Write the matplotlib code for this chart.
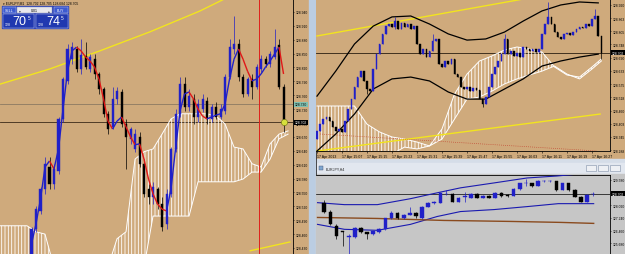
import numpy as np
import matplotlib.pyplot as plt
from matplotlib.collections import LineCollection
from matplotlib.patches import Rectangle

plt.rcParams['font.family'] = ['Liberation Sans', 'DejaVu Sans']
plt.rcParams['hatch.linewidth'] = 0.6

TAN = '#CFAA7C'
GREY_BG = '#C6C6C6'
BULL = '#2020C8'
BEAR = '#000000'
YELLOW = '#F2E41E'

# ---- left chart: EURJPY M1, candles start at bar 7 ----
lf_first = 7
lf_open = [128.417, 128.471, 128.510, 128.558, 128.605, 128.568, 128.596, 128.709, 128.791, 128.838,
           128.860, 128.817, 128.845, 128.817, 128.838, 128.806, 128.774, 128.720, 128.692, 128.752,
           128.767, 128.698, 128.666, 128.644, 128.670, 128.612, 128.558, 128.540, 128.558, 128.525,
           128.482, 128.547, 128.644, 128.720, 128.784, 128.735, 128.752, 128.713, 128.730, 128.748,
           128.709, 128.735, 128.713, 128.726, 128.800, 128.860, 128.871, 128.800, 128.763, 128.795,
           128.778, 128.817, 128.838, 128.828, 128.843, 128.869, 128.778]
lf_close = [128.471, 128.514, 128.558, 128.612, 128.568, 128.601, 128.709, 128.795, 128.860, 128.864,
            128.817, 128.847, 128.821, 128.843, 128.806, 128.774, 128.720, 128.687, 128.752, 128.769,
            128.698, 128.670, 128.687, 128.676, 128.612, 128.547, 128.540, 128.562, 128.525, 128.476,
            128.547, 128.644, 128.720, 128.784, 128.735, 128.758, 128.713, 128.741, 128.752, 128.709,
            128.735, 128.713, 128.730, 128.800, 128.864, 128.871, 128.800, 128.763, 128.795, 128.778,
            128.821, 128.838, 128.828, 128.849, 128.864, 128.778, 128.702]
lf_high = [128.476, 128.521, 128.562, 128.627, 128.627, 128.612, 128.713, 128.800, 128.871, 128.875,
           128.866, 128.882, 128.875, 128.849, 128.849, 128.810, 128.778, 128.726, 128.778, 128.778,
           128.774, 128.709, 128.692, 128.687, 128.681, 128.622, 128.568, 128.573, 128.562, 128.540,
           128.558, 128.648, 128.730, 128.800, 128.800, 128.774, 128.763, 128.752, 128.763, 128.756,
           128.741, 128.746, 128.741, 128.806, 128.882, 128.931, 128.882, 128.806, 128.800, 128.806,
           128.828, 128.847, 128.845, 128.856, 128.903, 128.882, 128.784]
lf_low = [128.402, 128.465, 128.504, 128.547, 128.558, 128.558, 128.590, 128.702, 128.784, 128.828,
          128.810, 128.806, 128.817, 128.810, 128.795, 128.763, 128.713, 128.676, 128.687, 128.741,
          128.692, 128.601, 128.655, 128.638, 128.605, 128.540, 128.525, 128.525, 128.514, 128.467,
          128.471, 128.540, 128.638, 128.713, 128.726, 128.726, 128.698, 128.702, 128.724, 128.698,
          128.702, 128.709, 128.709, 128.720, 128.795, 128.849, 128.791, 128.756, 128.758, 128.752,
          128.774, 128.810, 128.821, 128.821, 128.838, 128.774, 128.681]
lf_ma = [128.439, 128.482, 128.536, 128.605, 128.618, 128.601, 128.644, 128.730, 128.812, 128.856,
         128.864, 128.856, 128.843, 128.834, 128.821, 128.795, 128.752, 128.704, 128.687, 128.704,
         128.713, 128.692, 128.670, 128.653, 128.655, 128.622, 128.579, 128.547, 128.525, 128.514,
         128.510, 128.558, 128.644, 128.726, 128.763, 128.767, 128.752, 128.730, 128.715, 128.709,
         128.713, 128.717, 128.720, 128.741, 128.795, 128.838, 128.860, 128.838, 128.812, 128.791,
         128.795, 128.806, 128.821, 128.834, 128.849, 128.864, 128.806]
lf_cloud_x = list(range(0, 65, 2))
lf_span_a = [128.478, 128.478, 128.478, 128.478, 128.465, 128.460, 128.389, 128.389, 128.389, 128.389,
             128.389, 128.389, 128.389, 128.450, 128.465, 128.622, 128.638, 128.644, 128.676, 128.709,
             128.720, 128.720, 128.720, 128.720, 128.715, 128.698, 128.648, 128.644, 128.612, 128.605,
             128.655, 128.676, 128.683]
lf_span_b = [128.396, 128.396, 128.396, 128.396, 128.396, 128.396, 128.389, 128.389, 128.389, 128.389,
             128.389, 128.389, 128.389, 128.389, 128.389, 128.389, 128.389, 128.499, 128.499, 128.499,
             128.499, 128.499, 128.573, 128.573, 128.573, 128.573, 128.573, 128.579, 128.594, 128.594,
             128.622, 128.666, 128.676]
lf_chan_hi_x = [0, 11.1, 22.2, 33.3, 44.4, 51.1]
lf_chan_hi = [128.784, 128.817, 128.856, 128.897, 128.942, 128.974]
lf_chan_lo_x = [55.6, 64.4]
lf_chan_lo = [128.424, 128.443]
lf_vline = 57.6
lf_level = 128.741
lf_bid = 128.702
lf_ticks = [128.940, 128.910, 128.880, 128.850, 128.820, 128.790, 128.760, 128.730, 128.700,
            128.670, 128.640, 128.610, 128.580, 128.550, 128.520, 128.490, 128.460, 128.430]

# ---- right top chart: EURJPY M1, one bar per minute ----
rt_first_open = 128.336
rt_close = [128.371, 128.401, 128.423, 128.432, 128.415, 128.388, 128.371, 128.380, 128.367, 128.415,
            128.467, 128.510, 128.563, 128.606, 128.632, 128.589, 128.554, 128.545, 128.641, 128.706,
            128.750, 128.794, 128.828, 128.837, 128.824, 128.850, 128.815, 128.841, 128.824, 128.837,
            128.815, 128.828, 128.750, 128.706, 128.728, 128.693, 128.719, 128.763, 128.772, 128.663,
            128.650, 128.676, 128.663, 128.685, 128.619, 128.606, 128.563, 128.554, 128.563, 128.545,
            128.558, 128.550, 128.510, 128.489, 128.519, 128.563, 128.619, 128.650, 128.676, 128.706,
            128.772, 128.706, 128.719, 128.698, 128.711, 128.693, 128.737, 128.728, 128.719, 128.728,
            128.715, 128.728, 128.794, 128.837, 128.868, 128.837, 128.802, 128.780, 128.772, 128.794,
            128.798, 128.789, 128.802, 128.815, 128.824, 128.820, 128.837, 128.828, 128.859, 128.872,
            128.785, 128.711]
rt_wick_k = [16, 25, 37, 53, 60, 74, 89, 91]
rt_wick_hi = [128.589, 128.868, 128.794, 128.510, 128.794, 128.933, 128.902, 128.785]
rt_wick_lo = [128.532, 128.815, 128.719, 128.476, 128.706, 128.837, 128.859, 128.685]
rt_cloud_k = list(range(0, 89, 4)) + [91]
rt_span_a = [128.480, 128.480, 128.480, 128.480, 128.401, 128.367, 128.345, 128.336, 128.323, 128.306,
             128.380, 128.532, 128.619, 128.676, 128.698, 128.724, 128.737, 128.728, 128.715, 128.650,
             128.615, 128.606, 128.650, 128.685]
rt_span_b = [128.249, 128.249, 128.249, 128.249, 128.249, 128.249, 128.271, 128.301, 128.293, 128.306,
             128.336, 128.423, 128.510, 128.519, 128.545, 128.576, 128.598, 128.615, 128.632, 128.654,
             128.619, 128.598, 128.641, 128.676]
rt_env_k = list(range(0, 91, 6))
rt_env_hi = [128.523, 128.632, 128.750, 128.828, 128.868, 128.872, 128.837, 128.794, 128.767, 128.772,
             128.802, 128.850, 128.894, 128.920, 128.933, 128.929]
rt_env_lo = [128.284, 128.358, 128.445, 128.554, 128.598, 128.606, 128.589, 128.541, 128.510, 128.510,
             128.554, 128.598, 128.654, 128.676, 128.693, 128.706]
rt_chan_hi_k = [0, 80]
rt_chan_hi = [128.785, 128.980]
rt_chan_lo_k = [0, 90.6]
rt_chan_lo = [128.284, 128.445]
rt_dots_k = [1, 89.6]
rt_dots = [128.358, 128.284]
rt_bid = 128.711
rt_ticks = [128.920, 128.863, 128.805, 128.748, 128.690, 128.633, 128.575, 128.518, 128.460, 128.403,
            128.345, 128.288]
rt_time_labels = ['17 Apr 2013', '17 Apr 15:07', '17 Apr 15:15', '17 Apr 15:23', '17 Apr 15:31',
                  '17 Apr 15:39', '17 Apr 15:47', '17 Apr 15:55', '17 Apr 16:03', '17 Apr 16:11',
                  '17 Apr 16:19', '17 Apr 16:27']

# ---- bottom chart: EURJPY H4 ----
bt_open = [128.179, 127.631, 126.718, 126.413, 126.048, 126.048, 126.596, 126.352, 126.231, 126.352,
           126.535, 127.205, 127.570, 127.205, 127.449, 127.570, 127.205, 127.936, 128.179, 128.179,
           128.727, 128.727, 128.240, 128.545, 128.484, 128.727, 128.484, 128.606, 128.484, 128.788,
           128.667, 128.606, 129.032, 129.397, 129.397, 129.215, 129.519, 129.519, 129.519, 128.971,
           129.397, 128.971, 128.545, 128.240, 128.727]
bt_close = [127.631, 126.840, 126.109, 126.352, 126.109, 126.596, 126.352, 126.231, 126.413, 126.535,
            127.205, 127.570, 127.205, 127.449, 127.570, 127.327, 127.936, 128.179, 128.200, 128.788,
            128.740, 128.240, 128.484, 128.560, 128.727, 128.484, 128.606, 128.484, 128.788, 128.606,
            128.606, 129.032, 129.397, 129.410, 129.215, 129.519, 129.530, 129.540, 128.971, 129.397,
            128.971, 128.545, 128.240, 128.667, 128.740]
bt_high = [128.362, 127.700, 126.840, 126.413, 126.231, 126.650, 126.650, 126.400, 126.450, 126.600,
           127.250, 127.650, 127.600, 127.500, 127.936, 127.600, 127.990, 128.240, 128.300, 128.850,
           128.971, 128.760, 128.520, 128.849, 128.760, 128.760, 128.650, 128.650, 128.820, 128.820,
           128.700, 129.060, 129.420, 129.640, 129.420, 129.550, 129.580, 129.580, 129.540, 129.420,
           129.420, 129.000, 128.600, 128.700, 128.820]
bt_low = [127.570, 126.780, 125.926, 125.500, 125.013, 126.000, 126.300, 125.926, 126.200, 126.300,
          126.500, 127.150, 127.150, 127.150, 127.400, 127.250, 127.150, 127.900, 128.100, 128.150,
          128.650, 128.200, 128.200, 128.240, 128.450, 128.450, 128.450, 128.450, 128.450, 128.550,
          128.550, 128.580, 128.990, 129.200, 129.150, 129.200, 129.480, 129.480, 128.920, 128.940,
          128.920, 128.500, 128.200, 128.200, 128.600]
bt_band_hi_k = [-1.1, 3.3, 8.7, 14.1, 18.5, 22.3, 27.8, 33.2, 38.1, 45.1]
bt_band_hi = [128.179, 128.057, 128.057, 128.423, 128.788, 129.093, 129.397, 129.702, 129.824, 130.067]
bt_band_lo_k = [-1.1, 3.3, 8.7, 14.1, 18.5, 22.3, 27.8, 33.2, 38.3, 44.1]
bt_band_lo = [126.840, 126.535, 126.474, 126.840, 127.327, 127.631, 127.753, 127.936, 128.118, 128.118]
bt_ma_k = [-1.1, 8.7, 19.6, 30.5, 38.7, 44.1]
bt_ma = [127.266, 127.205, 127.083, 127.022, 126.962, 126.901]
bt_bid = 128.727
bt_ticks = [129.580, 128.800, 128.020, 127.240, 126.460, 125.680]


def candles(ax, x, o, c, h, l, width):
    o = np.asarray(o)
    c = np.asarray(c)
    cols = np.where(c > o, BULL, BEAR)
    ax.vlines(x, l, h, colors=cols, lw=0.5, zorder=4)
    ax.bar(x, np.abs(c - o), width, bottom=np.minimum(o, c), color=cols,
           edgecolor=cols, lw=0.3, zorder=5)


def cloud(ax, x, a, b):
    ax.fill_between(x, a, b, facecolor='none', edgecolor='white', hatch='|||||', lw=0, zorder=2)
    ax.plot(x, a, color='white', lw=0.7, zorder=2)
    ax.plot(x, b, color='white', lw=0.7, zorder=2)


def price_axis(ax, ticks, fc):
    ax.set_facecolor(fc)
    ax.yaxis.tick_right()
    ax.set_yticks(ticks)
    ax.set_yticklabels([f'{t:.3f}' for t in ticks])
    ax.tick_params(axis='y', labelsize=2.4, length=1, width=0.4, pad=0.6, colors='black')
    for s in ['left', 'top', 'bottom']:
        ax.spines[s].set_visible(False)
    ax.spines['right'].set_linewidth(0.6)


def price_box(ax, y, text, fc, tc):
    ax.text(1.006, y, text, transform=ax.get_yaxis_transform(), fontsize=2.4, color=tc,
            va='center', ha='left', clip_on=False, zorder=10,
            bbox=dict(boxstyle='square,pad=0.15', fc=fc, ec='none'))


fig = plt.figure(figsize=(6.25, 2.55), dpi=100, facecolor=TAN)


def px_axes(x0, y0, x1, y1, **kw):
    return fig.add_axes([x0 / 625, 1 - y1 / 255, (x1 - x0) / 625, (y1 - y0) / 255], **kw)


# window chrome underneath
under = px_axes(0, 0, 625, 255, zorder=-5)
under.set_xlim(0, 625)
under.set_ylim(255, 0)
under.axis('off')
under.add_patch(Rectangle((309, 0), 6, 255, color='#BBCDE2'))
under.plot([315.5, 315.5], [0, 255], color='#303030', lw=0.6)
under.add_patch(Rectangle((315.5, 160), 310, 95, color='#D5DDE8'))
under.add_patch(Rectangle((317, 164), 308, 10, color='#E2E7EF'))
under.add_patch(Rectangle((316, 175), 309, 80, color=GREY_BG))
under.text(326, 169.5, 'EURJPY,H4', fontsize=2.6, color='#202020', va='center')
under.add_patch(Rectangle((319, 167), 4, 4, fc='#7FA6D0', ec='#405070', lw=0.3))
for bx in [586, 598, 610]:
    under.add_patch(Rectangle((bx, 166), 10, 6, fc='#EEF0F4', ec='#8090A8', lw=0.4))

# ---- left panel ----
ax_l = px_axes(0, 0, 293, 255)
price_axis(ax_l, lf_ticks, TAN)
lx = np.arange(lf_first, lf_first + len(lf_close))
ax_l.set_xlim(0, 65.1)
ax_l.set_ylim(128.417, 128.968)
ax_l.set_xticks([])
cloud(ax_l, lf_cloud_x, lf_span_a, lf_span_b)
ax_l.plot(lf_chan_hi_x, lf_chan_hi, color=YELLOW, lw=1.0, zorder=3)
ax_l.plot(lf_chan_lo_x, lf_chan_lo, color=YELLOW, lw=1.0, zorder=3)
ax_l.axhline(lf_level, color='#8C7A62', lw=0.6, zorder=1)
ax_l.axhline(lf_bid, color='#3A2A18', lw=0.6, zorder=1)
ax_l.axvline(lf_vline, color='#E0201A', lw=0.7, zorder=3)
candles(ax_l, lx, lf_open, lf_close, lf_high, lf_low, 0.45)
ma = np.asarray(lf_ma)
segs = [[(lx[i], ma[i]), (lx[i + 1], ma[i + 1])] for i in range(len(ma) - 1)]
seg_cols = ['#E01818' if ma[i + 1] < ma[i] else BULL for i in range(len(ma) - 1)]
ax_l.add_collection(LineCollection(segs, colors=seg_cols, lw=1.0, zorder=6))
ax_l.plot(lx[-1], lf_close[-1], 'o', ms=4.5, mfc='#D6E03C', mec='#6A7010', mew=0.4, zorder=7)
price_box(ax_l, lf_level, '128.730', '#7FC0B0', 'black')
price_box(ax_l, lf_bid, '128.702', 'black', 'white')

# ---- right top panel ----
ax_r = px_axes(316, 0, 610, 152)
price_axis(ax_r, rt_ticks, TAN)
ax_r.spines['bottom'].set_visible(True)
ax_r.spines['bottom'].set_linewidth(0.6)
rk = np.arange(len(rt_close))
ro = np.array([rt_first_open] + rt_close[:-1])
rc = np.array(rt_close)
rh = np.maximum(ro, rc)
rl = np.minimum(ro, rc)
for k, hi, lo in zip(rt_wick_k, rt_wick_hi, rt_wick_lo):
    rh[k] = max(rh[k], hi)
    rl[k] = min(rl[k], lo)
ax_r.set_xlim(-0.32, 93.76)
ax_r.set_ylim(128.284, 128.946)
cloud(ax_r, rt_cloud_k, rt_span_a, rt_span_b)
ax_r.plot(rt_chan_hi_k, rt_chan_hi, color=YELLOW, lw=1.0, zorder=3)
ax_r.plot(rt_chan_lo_k, rt_chan_lo, color=YELLOW, lw=1.0, zorder=3)
ax_r.plot(rt_dots_k, rt_dots, color='#C03020', lw=0.5, ls=(0, (1, 2)), zorder=3)
ax_r.plot(rt_env_k, rt_env_hi, color='black', lw=0.9, zorder=3)
ax_r.plot(rt_env_k, rt_env_lo, color='black', lw=0.9, zorder=3)
ax_r.axhline(rt_bid, color='#2A1E10', lw=0.6, zorder=1)
candles(ax_r, rk, ro, rc, rh, rl, 0.5)
ax_r.set_xticks(range(0, 8 * len(rt_time_labels), 8))
ax_r.set_xticklabels(rt_time_labels)
ax_r.tick_params(axis='x', labelsize=2.5, length=1.2, width=0.4, pad=1)
for lab in ax_r.get_xticklabels():
    lab.set_ha('left')
price_box(ax_r, rt_bid, '128.702', 'black', 'white')

# ---- bottom panel ----
ax_b = px_axes(316, 176, 610, 255)
price_axis(ax_b, bt_ticks, GREY_BG)
ax_b.spines['top'].set_visible(True)
ax_b.spines['top'].set_linewidth(0.6)
bk = np.arange(len(bt_close))
ax_b.set_xlim(-1.35, 46.77)
ax_b.set_ylim(125.013, 129.885)
ax_b.set_xticks([])
ax_b.plot(bt_band_hi_k, bt_band_hi, color='#1A1AB0', lw=0.8, zorder=3)
ax_b.plot(bt_band_lo_k, bt_band_lo, color='#1A1AB0', lw=0.8, zorder=3)
ax_b.plot(bt_ma_k, bt_ma, color='#8A4A1E', lw=1.0, zorder=3)
ax_b.axhline(bt_bid, color='black', lw=0.5, zorder=1)
candles(ax_b, bk, bt_open, bt_close, bt_high, bt_low, 0.6)
price_box(ax_b, bt_bid, '128.702', 'black', 'white')

# ---- overlays: header text and one-click trade panel ----
over = px_axes(0, 0, 625, 255, zorder=10)
over.set_xlim(0, 625)
over.set_ylim(255, 0)
over.axis('off')
over.text(3, 4, '\u25be EURJPY,M1  128.702 128.705 128.684 128.705', fontsize=2.4,
          color='black', va='center')
over.add_patch(Rectangle((2, 7), 66, 22, color='#2E44B8'))
over.add_patch(Rectangle((2.5, 7.5), 13, 6.5, fc='#3D5AD0', ec='#C8D0F0', lw=0.3))
over.add_patch(Rectangle((53.5, 7.5), 14, 6.5, fc='#3D5AD0', ec='#C8D0F0', lw=0.3))
over.add_patch(Rectangle((17, 7.5), 35, 6.5, fc='#E8E8EC', ec='#8890B0', lw=0.3))
over.text(9, 10.8, 'SELL', fontsize=2.6, color='white', ha='center', va='center')
over.text(60.5, 10.8, 'BUY', fontsize=2.6, color='white', ha='center', va='center')
over.text(34.5, 10.8, '0.01', fontsize=2.6, color='black', ha='center', va='center')
over.text(20, 10.8, '\u25be', fontsize=2.6, color='#404060', ha='center', va='center')
over.text(49, 10.8, '\u25b4', fontsize=2.6, color='#404060', ha='center', va='center')
for px0, big in [(2.5, '70'), (36, '74')]:
    over.add_patch(Rectangle((px0, 15), 31.5, 13.5, fc='#2038B0', ec='#C8D0F0', lw=0.3))
    over.text(px0 + 2, 24.5, '128', fontsize=2.6, color='white', va='center')
    over.text(px0 + 10, 22, big, fontsize=9, color='white', va='center')
    over.text(px0 + 25, 18.5, '5', fontsize=3.5, color='white', va='center')

fig.savefig('out.png', dpi=100, facecolor=TAN)
